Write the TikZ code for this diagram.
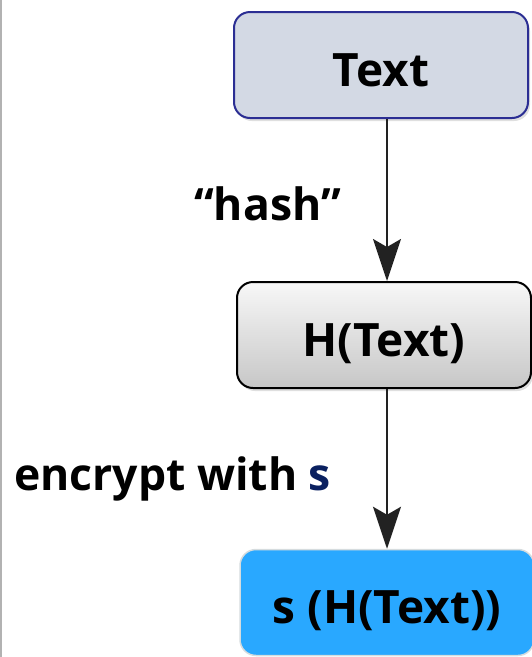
\documentclass[tikz,border=0pt]{standalone}
\usepackage{fontspec}
\setmainfont{Open Sans}
\usepackage{tikz}
\usetikzlibrary{arrows.meta,shadows}

\definecolor{plainfill}{HTML}{D3D9E4}
\definecolor{plainedge}{HTML}{2B2E93}
\definecolor{signfill}{HTML}{29A8FF}
\definecolor{signedge}{HTML}{D6DCDE}
\definecolor{keyblue}{HTML}{0A2060}
\definecolor{arrowgray}{HTML}{222222}

\begin{document}
\begin{tikzpicture}[x=1pt, y=1pt,
    box/.style={rounded corners=16pt, minimum width=294pt, minimum height=106pt,
        inner sep=0pt, text height=42pt, text depth=0pt,
        font=\fontsize{46}{54}\selectfont\bfseries},
    flow/.style={draw=arrowgray, line width=2pt,
        -{Stealth[length=42pt, width=28pt, inset=8pt]}},
    lbl/.style={inner sep=0pt, font=\fontsize{44.5}{52}\selectfont\bfseries}]
        \useasboundingbox (0,0) rectangle (531,-657);
        \draw[line width=2pt, draw=black!30] (1,0) -- (1,-657);

        \node[box, draw=plainedge, line width=2pt, fill=plainfill,
            drop shadow={shadow xshift=2pt, shadow yshift=-3pt, opacity=0.25}] (plain) at (381,-65) {Text};
        \node[box, draw=black, line width=2pt, top color=black!3, bottom color=black!22,
            drop shadow={shadow xshift=2pt, shadow yshift=-3pt, opacity=0.25}] (digest) at (384,-335) {H(Text)};
        \node[box, draw=signedge, line width=1.5pt, fill=signfill] (signed) at (387,-602.5) {s (H(Text))};

        \node[lbl, anchor=base east] (hashlbl) at (341,-220) {“hash”};
        \node[lbl, anchor=base west] (enclbl) at (14,-490) {encrypt with \textcolor{keyblue}{s}};

        \draw[flow] ([xshift=6pt]plain.south) -- ([xshift=3pt]digest.north);
        \draw[flow] ([xshift=3pt]digest.south) -- (signed.north);
    \end{tikzpicture}
\end{document}
